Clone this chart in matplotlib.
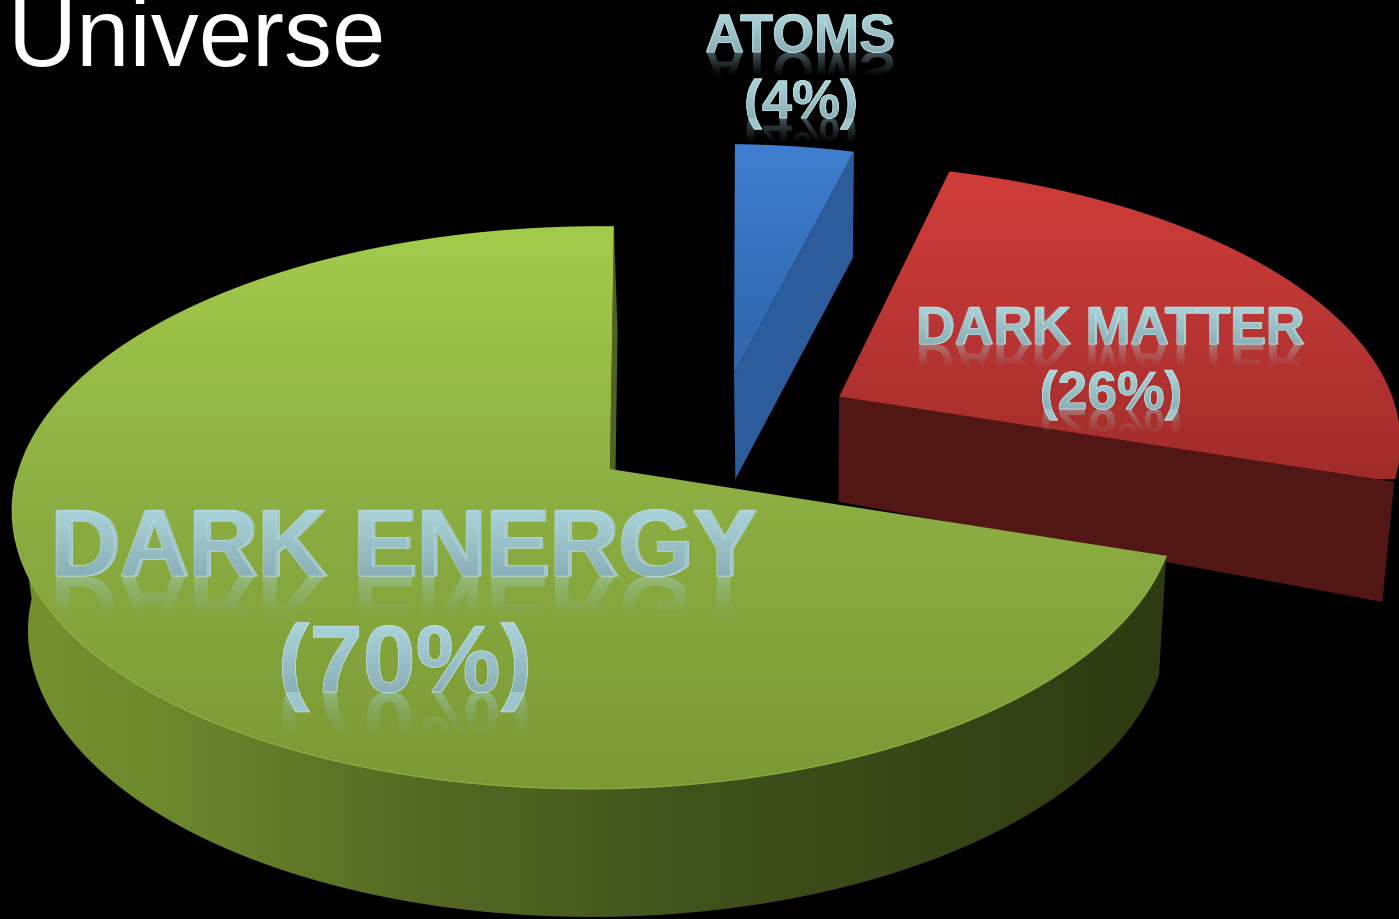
import numpy as np
import matplotlib
matplotlib.use("Agg")
import matplotlib.pyplot as plt
from matplotlib.colors import LinearSegmentedColormap
from matplotlib.font_manager import FontProperties
from matplotlib.patches import PathPatch, Polygon
from matplotlib.path import Path
from matplotlib.textpath import TextPath
from matplotlib.transforms import Affine2D
import matplotlib.patheffects as pe

# ---- data ----
names = ["DARK ENERGY", "DARK MATTER", "ATOMS"]
shares = [70, 26, 4]
title = "Universe"

# ---- styling / view ----
W, H, DPI = 1399, 920, 100
CX, CY, A, B, K, M, SKEW = 610, 470, 576, 276, 0.137, 0.026, 0.016
START = 90.0
plane_off = [(0, 0), (0.415, -0.275), (0, 0)]
pixel_off = [(0, 0), (0, 0), (124, -95)]
scale = [1.0, 1.045, 0.94]
shear = [0.0, 0.04, -0.012]
top_stops = [
    [(200, "#a3cb4b"), (227, "#a3cb4b"), (500, "#8cae42"), (790, "#7b9935")],
    [(150, "#cf3c39"), (178, "#cf3c39"), (330, "#b93533"), (480, "#a02c2a")],
    [(120, "#3f7ed0"), (147, "#3f7ed0"), (300, "#336cb6"), (480, "#2c5e9e")],
]
wall_stops = [(0, "#76922f"), (150, "#6d8a2d"), (400, "#566c24"),
              (700, "#40521b"), (1000, "#344215"), (1180, "#2e3a12")]
wall_colors = [None, "#521614", "#2c5c9c"]
text_top, text_bot = "#acd6db", "#8bafb7"
label_pos = [(405, 577, 95.5), (1111, 345, 53.5), (800, 53, 54)]
pct_pos = [(405, 693, 95.5), (1111, 410, 53.5), (801, 119, 54)]
depth_in = [150, 400, 480, 560, 790]
depth_out = [256, 505, 600, 680, 918]

fp_b = FontProperties(family="Liberation Sans", weight="bold")

fig = plt.figure(figsize=(W / DPI, H / DPI), dpi=DPI, facecolor="black")
ax = fig.add_axes([0, 0, 1, 1], facecolor="black")
ax.set_axis_off()


def project(u, v):
    w = 1 - K * v + M * u
    y = B * v / w
    return CX + A * u / w - SKEW * y, CY + y


def bottom(x, y):
    return 0.98 * x + 16, np.interp(y, depth_in, depth_out)


def apex(i):
    x, y = project(*plane_off[i])
    return x + pixel_off[i][0], y + pixel_off[i][1]


def arc(i, a0, a1, n=200):
    t = np.radians(np.linspace(a0, a1, n))
    u0, v0 = plane_off[i]
    x, y = project(u0 + scale[i] * np.cos(t), v0 - scale[i] * np.sin(t))
    x, y = x + pixel_off[i][0], y + pixel_off[i][1]
    return x - shear[i] * (y - apex(i)[1]), y


def grad(path, stops, axis, z, alpha=None):
    lo, hi = stops[0][0], stops[-1][0]
    cols = [(min(max((p - lo) / (hi - lo), 0), 1), c) for p, c in stops]
    cmap = LinearSegmentedColormap.from_list("g", cols)
    ramp = cmap(np.linspace(0, 1, 256))
    if alpha is not None:
        ramp[:, 3] = np.linspace(alpha[0], alpha[1], 256)
    arr = ramp[:, None, :] if axis == "y" else ramp[None, :, :]
    ext = ((0, W, hi, lo) if axis == "y" else (lo, hi, H, 0))
    im = ax.imshow(arr, extent=ext, aspect="auto", zorder=z, interpolation="bilinear")
    im.set_clip_path(path, transform=ax.transData)
    return im


def poly(xs, ys):
    return Path(np.column_stack([np.r_[xs, xs[0]], np.r_[ys, ys[0]]]), closed=True)


# ---- slices ----
ang = START
spans = []
for s in shares:
    spans.append((ang, ang + s * 3.6))
    ang += s * 3.6

draw_order = [2, 1, 0]
for i in draw_order:
    a0, a1 = spans[i]
    z = {2: 1, 1: 2, 0: 3}[i]
    ax_, ay_ = apex(i)
    x, y = arc(i, a0, a1)
    if i == 0:
        # outer curved wall
        tx, ty = arc(i, 182, a1)
        bx, by = bottom(tx, ty)
        grad(poly(np.r_[tx, bx[::-1]], np.r_[ty, by[::-1]]),
             wall_stops, "x", z)
        # sliver of the cut face at the back
        px = [x[0], bottom(x[0], y[0])[0], bottom(ax_, ay_)[0], ax_]
        py = [y[0], bottom(x[0], y[0])[1], bottom(ax_, ay_)[1], ay_]
        ax.add_patch(Polygon(np.column_stack([px, py]), fc="#4f6420", ec="none", zorder=z))
    else:
        bx, by = bottom(x[0], y[0])
        b2x, b2y = bottom(ax_, ay_)
        ax.add_patch(Polygon([(ax_, ay_), (x[0], y[0]), (bx, by), (b2x, b2y)],
                             fc=wall_colors[i], ec="none", zorder=z))
    grad(poly(np.r_[ax_, x], np.r_[ay_, y]), top_stops[i], "y", z + 0.1)
    if i == 0:
        tx, ty = arc(i, 182, a1)
        ax.plot(tx, ty, color="#a9cb4c", lw=0.8, alpha=0.7, zorder=z + 0.2)


# ---- bevelled labels with reflection ----
def bevel_text(s, x, base, px):
    fs = px * 72 / DPI
    ax.text(x, base, s, fontsize=fs, family="Liberation Sans",
            weight="bold", ha="center", va="baseline", color="#9cc6cc", zorder=10,
            path_effects=[pe.withStroke(linewidth=0.6, foreground="#c4e6ea")])
    tp = TextPath((0, 0), s, size=px, prop=fp_b)
    bb = tp.get_extents()
    dx = x - (bb.x0 + bb.x1) / 2
    solid = tp.transformed(Affine2D().scale(1, -1).translate(dx, base))
    grad(solid, [(base - 0.74 * px, text_top), (base, text_bot)], "y", 10.1)
    ax.add_patch(PathPatch(solid, fc="none", ec="#d4f1f4", lw=0.5, alpha=0.55, zorder=10.2))
    # mirror image below the baseline, fading out
    mirror = tp.transformed(Affine2D().translate(dx, base))
    grad(mirror, [(base, text_top), (base + 0.46 * px, text_bot)], "y", 9.5, alpha=(0.42, 0.0))


for nm, sh, lp, pp in zip(names, shares, label_pos, pct_pos):
    bevel_text(nm, *lp)
    bevel_text(f"({sh}%)", *pp)

ax.text(8, 66, title, color="white", fontsize=69, family="Liberation Sans",
        ha="left", va="baseline", zorder=11)

ax.set_xlim(0, W)
ax.set_ylim(H, 0)
fig.savefig("out.png", dpi=DPI, facecolor="black")
